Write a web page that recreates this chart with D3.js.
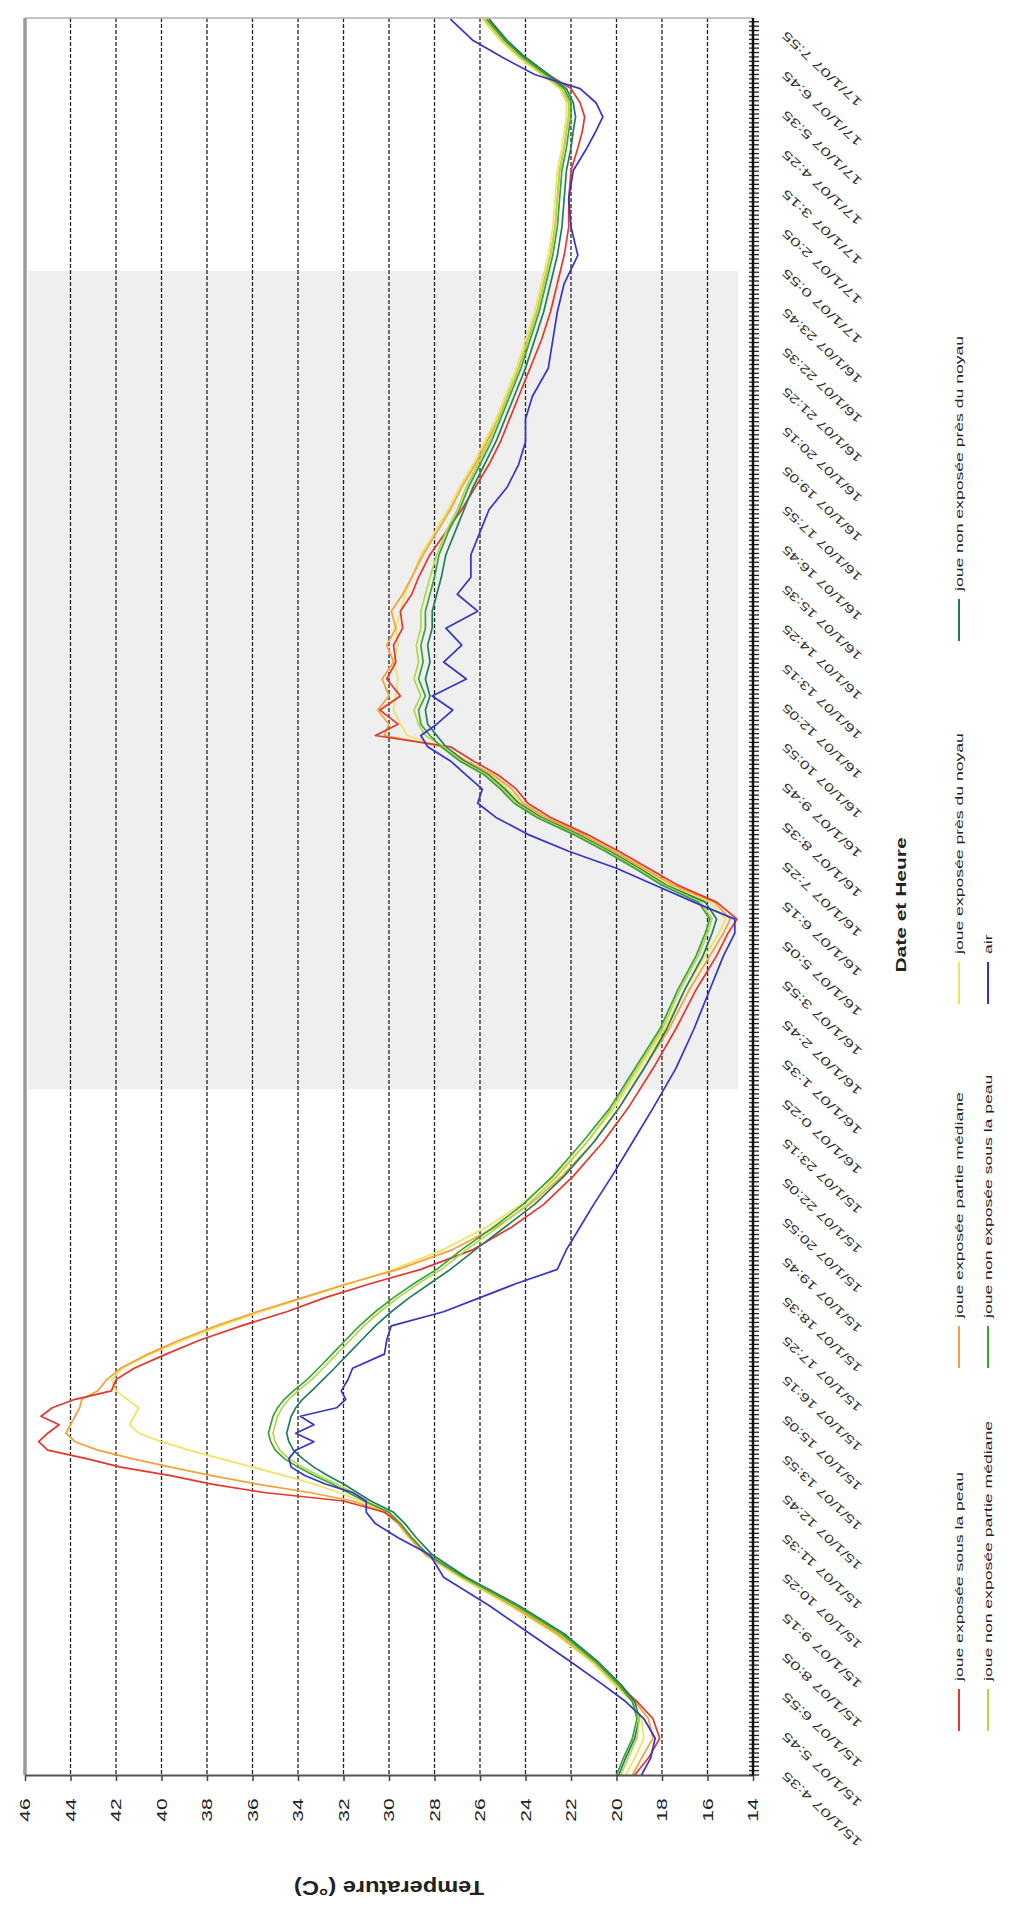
<!DOCTYPE html>
<html>
<head>
<meta charset="utf-8">
<script src="https://cdnjs.cloudflare.com/ajax/libs/d3/7.8.5/d3.min.js"></script>
<style>
  body { margin: 0; background: #fff; }
  svg { display: block; font-family: "Liberation Sans", Arial, sans-serif; }
</style>
</head>
<body>
<div id="chart"></div>
<script>
// minutes since 15/1/07 4:35 for every reading
var minutes = [
  0, 30, 65, 100, 130, 160, 200, 250, 300, 350,
  390, 420, 445, 465, 485, 500, 515, 530, 545, 560,
  575, 590, 605, 620, 635, 650, 665, 680, 700, 720,
  745, 770, 795, 820, 845, 870, 895, 930, 970, 1010,
  1060, 1120, 1180, 1250, 1320, 1390, 1450, 1490, 1515, 1545,
  1575, 1605, 1635, 1665, 1695, 1720, 1745, 1770, 1795, 1820,
  1840, 1860, 1885, 1910, 1940, 1970, 2000, 2030, 2060, 2090,
  2120, 2160, 2200, 2240, 2280, 2320, 2360, 2400, 2440, 2490,
  2540, 2590, 2640, 2690, 2740, 2790, 2840, 2880, 2910, 2935,
  2960, 2985, 3010, 3040, 3070, 3108
];

// temperatures (°C)
var exposeSousPeau = [
  19.2, 18.6, 18.1, 18.4, 19.1, 19.9, 20.9, 22.5, 24.5, 26.7,
  28.3, 29.0, 29.5, 30.2, 32.0, 35.5, 37.8, 39.6, 41.8, 43.3,
  45.0, 45.4, 45.0, 44.5, 45.3, 44.8, 43.8, 42.2, 42.0, 41.2,
  39.8, 38.3, 36.5, 34.5, 32.8, 30.8, 28.6, 26.3, 24.6, 23.2,
  21.9, 20.6, 19.5, 18.4, 17.4, 16.5, 15.6, 15.1, 14.7, 15.6,
  17.3, 18.6, 19.9, 21.3, 22.9, 23.9, 24.4, 25.2, 26.3, 27.3,
  30.6, 29.6, 30.4, 29.5, 30.1, 29.7, 29.8, 29.4, 29.5, 29.0,
  28.7, 28.2, 27.5, 26.8, 26.2, 25.6, 25.1, 24.7, 24.3, 23.8,
  23.3, 22.9, 22.6, 22.3, 22.1, 22.1, 22.0, 21.7, 21.5, 21.4,
  21.6, 22.0, 23.0, 24.0, 24.9, 25.6
];
var exposeMediane = [
  19.3, 18.9, 18.4, 18.6, 19.2, 20.0, 21.0, 22.6, 24.6, 26.8,
  28.4, 29.1, 29.6, 30.2, 31.6, 33.5, 35.8, 37.8, 39.6, 41.3,
  42.8, 43.8, 44.2, 44.0, 43.8, 43.6, 43.5, 42.8, 42.4, 41.8,
  40.6, 39.2, 37.6, 35.8, 33.8, 31.8, 29.6, 27.2, 25.3, 23.8,
  22.4, 21.0, 19.9, 18.8, 17.7, 16.8, 15.9, 15.3, 15.0, 15.7,
  17.5, 18.8, 20.1, 21.5, 23.1, 24.1, 24.6, 25.4, 26.6, 27.6,
  30.2, 30.0, 30.5, 30.0, 30.3, 29.8, 30.1, 29.7, 29.9, 29.4,
  29.0, 28.5, 27.9, 27.3, 26.8, 26.2, 25.7, 25.2, 24.8, 24.3,
  23.9, 23.5, 23.2, 22.9, 22.7, 22.6, 22.5, 22.3, 22.2, 22.1,
  22.1, 22.4, 23.2, 24.2, 25.0, 25.8
];
var exposeNoyau = [
  19.6, 19.2, 18.8, 18.9, 19.3, 20.1, 21.1, 22.7, 24.7, 26.9,
  28.4, 29.1, 29.6, 30.1, 31.3, 32.2, 33.3, 34.6, 36.0, 37.4,
  38.8, 40.0, 41.0, 41.4, 41.2, 41.0, 41.5, 42.0, 42.2, 41.7,
  40.5, 39.0, 37.4, 35.6, 33.7, 31.7, 29.8, 27.6, 25.7, 24.2,
  22.7, 21.3, 20.1, 19.0, 17.9, 17.0, 16.1, 15.5, 15.2, 15.9,
  17.6, 18.9, 20.2, 21.6, 23.2, 24.2, 24.8, 25.5, 26.7, 27.7,
  29.2, 29.5, 29.8, 29.7, 29.6, 29.8, 29.6, 29.7, 29.5, 29.3,
  29.0, 28.6, 28.0, 27.4, 26.9, 26.3, 25.8, 25.3, 24.9, 24.4,
  24.0, 23.6, 23.3, 23.0, 22.8, 22.7, 22.6, 22.4, 22.3, 22.2,
  22.2, 22.5, 23.3, 24.3, 25.1, 25.9
];
var nonExposeNoyau = [
  19.9, 19.6, 19.2, 19.0, 19.2, 19.8, 20.8, 22.3, 24.3, 26.6,
  28.1, 28.8, 29.3, 29.8, 30.8, 31.4, 32.0, 32.7, 33.3, 33.8,
  34.2, 34.4, 34.5, 34.4, 34.3, 34.1, 33.8, 33.4, 32.9, 32.4,
  31.8, 31.2, 30.6, 29.9, 29.1, 28.2, 27.3, 26.2, 24.9, 23.6,
  22.3, 21.0, 19.9, 18.8, 17.8, 17.0, 16.2, 15.8, 15.6, 16.1,
  17.8, 19.0, 20.3, 21.7, 23.3, 24.3, 24.9, 25.6, 26.7, 27.5,
  27.9, 28.3, 28.4, 28.2, 28.4, 28.2, 28.3, 28.1, 28.1, 27.9,
  27.7, 27.5, 27.1, 26.7, 26.3, 25.8, 25.3, 24.9, 24.5, 24.0,
  23.6, 23.2, 22.9, 22.6, 22.4, 22.3, 22.2, 22.0, 21.9, 21.8,
  21.9, 22.2, 23.0, 24.0, 24.8, 25.6
];
var nonExposeMediane = [
  19.8, 19.5, 19.1, 19.0, 19.3, 20.0, 21.0, 22.5, 24.5, 26.8,
  28.3, 29.0, 29.5, 30.0, 31.0, 31.6, 32.3, 33.1, 33.8, 34.4,
  34.8, 35.0, 35.1, 35.0, 34.9, 34.7, 34.4, 34.0, 33.4, 32.9,
  32.3, 31.7, 31.1, 30.4, 29.6, 28.7, 27.7, 26.6, 25.2, 23.9,
  22.6, 21.3, 20.2, 19.1, 18.0, 17.2, 16.4, 16.0, 15.8, 16.3,
  17.9, 19.1, 20.4, 21.8, 23.4, 24.4, 25.0, 25.7, 26.8, 27.6,
  28.4, 28.7, 28.9, 28.6, 28.9, 28.7, 28.8, 28.6, 28.6, 28.4,
  28.2, 27.9, 27.5, 27.0, 26.6, 26.1, 25.6, 25.2, 24.8, 24.3,
  23.9, 23.5, 23.2, 22.9, 22.7, 22.6, 22.5, 22.3, 22.2, 22.1,
  22.1, 22.4, 23.2, 24.2, 25.0, 25.8
];
var nonExposeSousPeau = [
  20.0, 19.7, 19.3, 19.1, 19.3, 19.9, 20.9, 22.4, 24.4, 26.7,
  28.3, 29.0, 29.5, 30.0, 31.1, 31.8, 32.5, 33.3, 34.0, 34.6,
  35.0, 35.2, 35.3, 35.2, 35.1, 34.9, 34.6, 34.2, 33.6, 33.1,
  32.5, 31.9, 31.3, 30.6, 29.8, 28.9, 27.9, 26.8, 25.4, 24.1,
  22.8, 21.5, 20.3, 19.2, 18.1, 17.3, 16.5, 16.1, 15.9, 16.4,
  18.0, 19.2, 20.5, 21.9, 23.5, 24.5, 25.1, 25.8, 26.9, 27.7,
  28.2, 28.6, 28.7, 28.4, 28.7, 28.5, 28.6, 28.4, 28.4, 28.2,
  28.0, 27.8, 27.4, 26.9, 26.5, 26.0, 25.5, 25.1, 24.7, 24.2,
  23.8, 23.4, 23.1, 22.8, 22.6, 22.5, 22.4, 22.2, 22.1, 22.0,
  22.0, 22.3, 23.1, 24.1, 24.9, 25.7
];
var air = [
  18.9, 18.5, 18.3, 18.8, 19.6, 20.6, 22.0, 23.8, 25.6, 27.6,
  28.2, 29.6, 30.6, 31.0, 31.0, 31.6, 32.8, 33.7, 34.3, 34.4,
  34.1, 33.3, 34.1, 33.3, 33.9, 32.3, 31.9, 32.1, 31.8, 31.6,
  30.2, 30.1, 29.9, 27.6, 26.0, 24.4, 22.6, 22.2, 21.6, 21.0,
  20.2, 19.3, 18.4, 17.4, 16.6, 15.9, 15.3, 14.8, 14.8, 16.6,
  18.3, 20.0, 22.1, 23.9, 25.3, 26.1, 25.9, 26.6, 27.3, 28.3,
  28.6, 27.9, 27.2, 28.1, 26.6, 27.6, 26.8, 27.5, 26.1, 27.0,
  26.4, 26.4, 26.0, 25.6, 24.8, 24.3, 24.0, 24.0, 23.7, 23.0,
  22.8, 22.6, 22.3, 21.7, 22.0, 22.1, 21.9, 21.3, 20.9, 20.6,
  20.9, 21.6, 23.6, 25.0, 26.3, 27.3
];

var seriesNames = [
  "joue exposée sous la peau",
  "joue exposée partie médiane",
  "joue exposée près du noyau",
  "joue non exposée près du noyau",
  "joue non exposée partie médiane",
  "joue non exposée sous la peau",
  "air"
];
var seriesColors = ["#e4372d", "#f3a23a", "#f0e35c", "#237d5c", "#b4d64a", "#3ca33a", "#3535c6"];

var dateLabels = [
  "15/1/07 4:35", "15/1/07 5:45", "15/1/07 6:55", "15/1/07 8:05", "15/1/07 9:15",
  "15/1/07 10:25", "15/1/07 11:35", "15/1/07 12:45", "15/1/07 13:55", "15/1/07 15:05",
  "15/1/07 16:15", "15/1/07 17:25", "15/1/07 18:35", "15/1/07 19:45", "15/1/07 20:55",
  "15/1/07 22:05", "15/1/07 23:15", "16/1/07 0:25", "16/1/07 1:35", "16/1/07 2:45",
  "16/1/07 3:55", "16/1/07 5:05", "16/1/07 6:15", "16/1/07 7:25", "16/1/07 8:35",
  "16/1/07 9:45", "16/1/07 10:55", "16/1/07 12:05", "16/1/07 13:15", "16/1/07 14:25",
  "16/1/07 15:35", "16/1/07 16:45", "16/1/07 17:55", "16/1/07 19:05", "16/1/07 20:15",
  "16/1/07 21:25", "16/1/07 22:35", "16/1/07 23:45", "17/1/07 0:55", "17/1/07 2:05",
  "17/1/07 3:15", "17/1/07 4:25", "17/1/07 5:35", "17/1/07 6:45", "17/1/07 7:55"
];
var labelStep = 70;          // minutes between date labels
var tempTicks = [14, 16, 18, 20, 22, 24, 26, 28, 30, 32, 34, 36, 38, 40, 42, 44, 46];
var nightBand = [1214, 2662]; // shaded period, minutes

// the page shows the chart turned a quarter turn: temperature runs left-right, time bottom-up
var width = 1009, height = 1910;
var x = d3.scaleLinear().domain([46, 14]).range([25, 753]);
var y = d3.scaleLinear().domain([0, 3110]).range([1775, 18]);

var svg = d3.select("#chart").append("svg")
  .attr("width", width)
  .attr("height", height);

svg.append("rect").attr("width", width).attr("height", height).attr("fill", "#fff");

// shaded band
svg.append("rect")
  .attr("x", x(46) + 3)
  .attr("width", 738 - x(46) - 3)
  .attr("y", y(nightBand[1]))
  .attr("height", y(nightBand[0]) - y(nightBand[1]))
  .attr("fill", "#efefef");

// dashed grid
svg.append("g").selectAll("line")
  .data(tempTicks.filter(function (d) { return d > 14 && d < 46; }))
  .join("line")
  .attr("x1", function (d) { return x(d); })
  .attr("x2", function (d) { return x(d); })
  .attr("y1", y.range()[1])
  .attr("y2", y.range()[0])
  .attr("stroke", "#222")
  .attr("stroke-width", 1.3)
  .attr("stroke-dasharray", "4,2");

// frame: top and left border
svg.append("line")
  .attr("x1", x(46)).attr("x2", x(14))
  .attr("y1", y.range()[1]).attr("y2", y.range()[1])
  .attr("stroke", "#b0b0b0").attr("stroke-width", 1.5);
svg.append("line")
  .attr("x1", x(46)).attr("x2", x(46))
  .attr("y1", y.range()[1]).attr("y2", y.range()[0])
  .attr("stroke", "#9a9a9a").attr("stroke-width", 3.5);

// series
var seriesData = [exposeSousPeau, exposeMediane, exposeNoyau, nonExposeNoyau, nonExposeMediane, nonExposeSousPeau, air];
var line = d3.line()
  .x(function (d) { return x(d.v); })
  .y(function (d) { return y(d.t); });

var drawOrder = [2, 1, 0, 3, 4, 5, 6];
svg.append("g").selectAll("path")
  .data(drawOrder)
  .join("path")
  .attr("fill", "none")
  .attr("stroke", function (i) { return seriesColors[i]; })
  .attr("stroke-width", 1.7)
  .attr("stroke-linejoin", "round")
  .attr("d", function (i) {
    return line(seriesData[i].map(function (v, k) { return { t: minutes[k], v: v }; }));
  });

// temperature axis (bottom of page)
var tempAxis = svg.append("g")
  .attr("transform", "translate(0," + y.range()[0] + ")")
  .call(d3.axisBottom(x).tickValues(tempTicks).tickSize(6).tickSizeOuter(0).tickFormat(d3.format("d")));
tempAxis.select(".domain").attr("stroke", "#555").attr("stroke-width", 2);
tempAxis.selectAll(".tick line").attr("stroke", "#444").attr("stroke-width", 1.5);
tempAxis.selectAll(".tick text")
  .attr("y", null).attr("dy", null)
  .attr("transform", "translate(0,35) rotate(-90) scale(1.5,1)")
  .attr("text-anchor", "middle")
  .attr("dominant-baseline", "central")
  .attr("fill", "#222")
  .style("font-size", "14px");

// date axis (right of page)
var labelMinutes = dateLabels.map(function (d, i) { return i * labelStep; });
var dateAxis = svg.append("g")
  .attr("transform", "translate(" + x(14) + ",0)")
  .call(d3.axisRight(y).tickValues(labelMinutes).tickSize(0)
    .tickFormat(function (d, i) { return dateLabels[i]; }));
dateAxis.select(".domain").remove();
dateAxis.selectAll(".tick text")
  .attr("x", null).attr("dy", null)
  .attr("transform", "translate(31,-2) rotate(-137)")
  .attr("text-anchor", "end")
  .attr("dominant-baseline", "central")
  .attr("textLength", 104)
  .attr("lengthAdjust", "spacingAndGlyphs")
  .attr("fill", "#333")
  .style("font-size", "12px");

svg.append("g").selectAll("line")
  .data(d3.range(0, 3110, labelStep / 9))
  .join("line")
  .attr("x1", x(14) - 4).attr("x2", x(14) + 6)
  .attr("y1", function (d) { return y(d); })
  .attr("y2", function (d) { return y(d); })
  .attr("stroke", "#222").attr("stroke-width", 1.3);
svg.append("line")
  .attr("x1", x(14)).attr("x2", x(14))
  .attr("y1", y.range()[1]).attr("y2", y.range()[0])
  .attr("stroke", "#111").attr("stroke-width", 2.5);

// axis titles
svg.append("text")
  .attr("transform", "translate(901," + y(1540) + ") rotate(-90) scale(1.5,1)")
  .attr("text-anchor", "middle")
  .attr("dominant-baseline", "central")
  .style("font-size", "14px")
  .style("font-weight", "bold")
  .attr("fill", "#222")
  .text("Date et Heure");

svg.append("text")
  .attr("transform", "translate(" + ((x(46) + x(14)) / 2) + ",1888) scale(1,1.3) rotate(180)")
  .attr("text-anchor", "middle")
  .attr("dominant-baseline", "central")
  .attr("textLength", 190)
  .attr("lengthAdjust", "spacingAndGlyphs")
  .style("font-size", "15px")
  .style("font-weight", "bold")
  .attr("fill", "#222")
  .text("Temperature (°C)");

// legend
var legendCols = [959, 988];
var legendSlots = [1731, 1368, 1004, 641];
var legendItems = seriesNames.map(function (name, i) {
  var col = i < 4 ? 0 : 1;
  var slot = i < 4 ? i : i - 4;
  return { name: name, color: seriesColors[i], x: legendCols[col], y: legendSlots[slot] };
});
var legend = svg.append("g").selectAll("g")
  .data(legendItems)
  .join("g");
legend.append("line")
  .attr("x1", function (d) { return d.x; })
  .attr("x2", function (d) { return d.x; })
  .attr("y1", function (d) { return d.y; })
  .attr("y2", function (d) { return d.y - 42; })
  .attr("stroke", function (d) { return d.color; })
  .attr("stroke-width", 2);
legend.append("text")
  .attr("transform", function (d) { return "translate(" + d.x + "," + (d.y - 50) + ") rotate(-90) scale(1.6,1)"; })
  .attr("dominant-baseline", "central")
  .style("font-size", "11px")
  .attr("fill", "#222")
  .text(function (d) { return d.name; });
</script>
</body>
</html>
